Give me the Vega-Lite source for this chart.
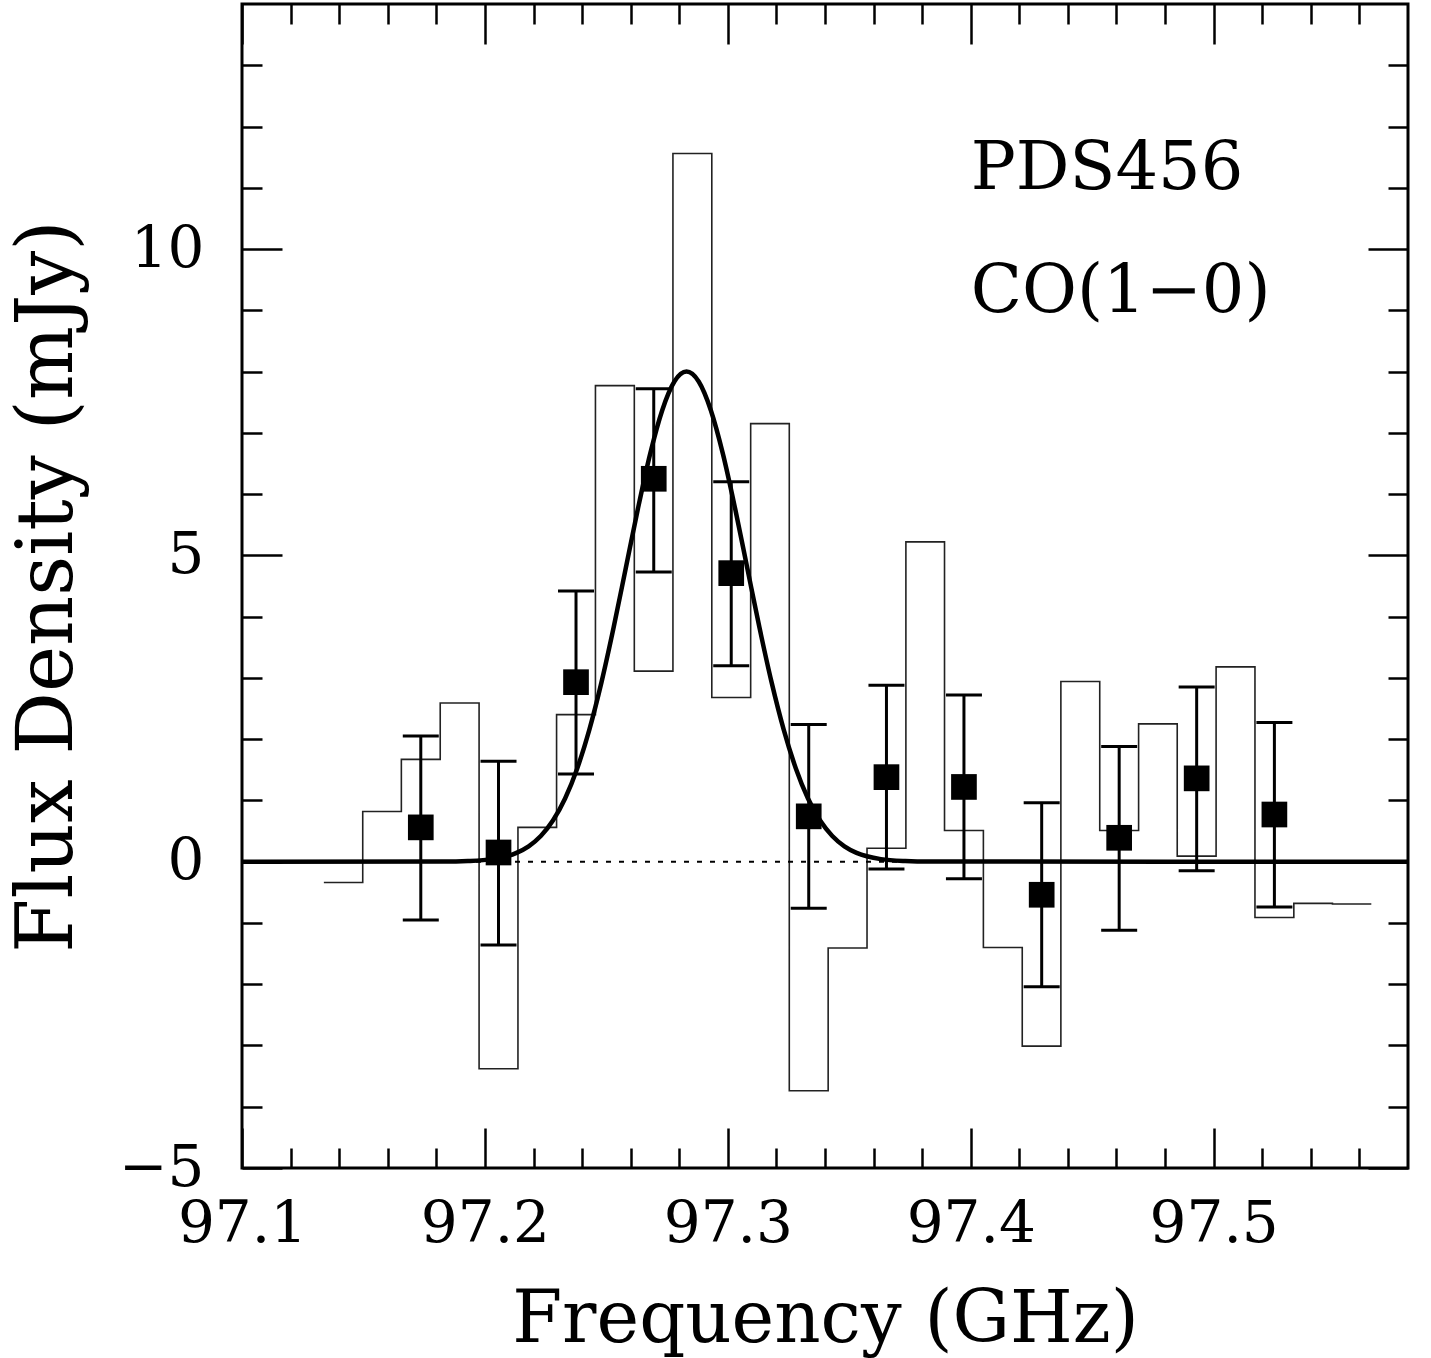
{
  "$schema": "https://vega.github.io/schema/vega-lite/v6.json",
  "width": 1166,
  "height": 1164,
  "autosize": {"type": "none"},
  "padding": {"left": 242, "top": 4, "right": 23, "bottom": 190},
  "background": "white",
  "config": {
    "view": {"stroke": "black", "strokeWidth": 3},
    "font": "DejaVu Serif",
    "axis": {
      "grid": false, "domain": false,
      "labelColor": "black", "titleColor": "black", "tickColor": "black",
      "labelFont": "DejaVu Serif", "titleFont": "DejaVu Serif", "titleFontWeight": "normal",
      "labelFlush": false, "labelOverlap": false, "labelBound": false
    }
  },
  "datasets": {
    "hist": [
      {"freq": 97.1337, "flux": -0.34},
      {"freq": 97.1497, "flux": 0.82},
      {"freq": 97.1656, "flux": 1.67},
      {"freq": 97.1816, "flux": 2.59},
      {"freq": 97.1976, "flux": -3.38},
      {"freq": 97.2136, "flux": 0.56},
      {"freq": 97.2295, "flux": 2.40},
      {"freq": 97.2455, "flux": 7.77},
      {"freq": 97.2615, "flux": 3.11},
      {"freq": 97.2774, "flux": 11.56},
      {"freq": 97.2934, "flux": 2.68},
      {"freq": 97.3094, "flux": 7.15},
      {"freq": 97.3253, "flux": -3.74},
      {"freq": 97.3413, "flux": -1.41},
      {"freq": 97.3573, "flux": 0.22},
      {"freq": 97.3733, "flux": 5.22},
      {"freq": 97.3892, "flux": 0.51},
      {"freq": 97.4052, "flux": -1.40},
      {"freq": 97.4212, "flux": -3.01},
      {"freq": 97.4371, "flux": 2.94},
      {"freq": 97.4531, "flux": 0.51},
      {"freq": 97.4691, "flux": 2.25},
      {"freq": 97.4850, "flux": 0.09},
      {"freq": 97.5010, "flux": 3.18},
      {"freq": 97.5170, "flux": -0.91},
      {"freq": 97.5330, "flux": -0.68},
      {"freq": 97.5489, "flux": -0.69},
      {"freq": 97.5649, "flux": -0.69}
    ],
    "zero": [
      {"freq": 97.1, "flux": 0},
      {"freq": 97.58, "flux": 0}
    ],
    "gauss": [
      {"freq": 97.100, "flux": 0},
      {"freq": 97.183, "flux": 0.002},
      {"freq": 97.193, "flux": 0.011},
      {"freq": 97.203, "flux": 0.042},
      {"freq": 97.213, "flux": 0.144},
      {"freq": 97.218, "flux": 0.251},
      {"freq": 97.223, "flux": 0.419},
      {"freq": 97.228, "flux": 0.671},
      {"freq": 97.233, "flux": 1.031},
      {"freq": 97.238, "flux": 1.522},
      {"freq": 97.243, "flux": 2.156},
      {"freq": 97.248, "flux": 2.931},
      {"freq": 97.253, "flux": 3.826},
      {"freq": 97.258, "flux": 4.794},
      {"freq": 97.263, "flux": 5.764},
      {"freq": 97.268, "flux": 6.653},
      {"freq": 97.273, "flux": 7.370},
      {"freq": 97.278, "flux": 7.838},
      {"freq": 97.283, "flux": 8.000},
      {"freq": 97.288, "flux": 7.838},
      {"freq": 97.293, "flux": 7.370},
      {"freq": 97.298, "flux": 6.653},
      {"freq": 97.303, "flux": 5.764},
      {"freq": 97.308, "flux": 4.794},
      {"freq": 97.313, "flux": 3.826},
      {"freq": 97.318, "flux": 2.931},
      {"freq": 97.323, "flux": 2.156},
      {"freq": 97.328, "flux": 1.522},
      {"freq": 97.333, "flux": 1.031},
      {"freq": 97.338, "flux": 0.671},
      {"freq": 97.343, "flux": 0.419},
      {"freq": 97.348, "flux": 0.251},
      {"freq": 97.353, "flux": 0.144},
      {"freq": 97.363, "flux": 0.042},
      {"freq": 97.373, "flux": 0.011},
      {"freq": 97.383, "flux": 0.002},
      {"freq": 97.580, "flux": 0}
    ],
    "pts": [
      {"freq": 97.1736, "flux": 0.56, "lo": -0.95, "hi": 2.05},
      {"freq": 97.2056, "flux": 0.15, "lo": -1.36, "hi": 1.64},
      {"freq": 97.2375, "flux": 2.93, "lo": 1.43, "hi": 4.42},
      {"freq": 97.2695, "flux": 6.25, "lo": 4.73, "hi": 7.72},
      {"freq": 97.3014, "flux": 4.71, "lo": 3.20, "hi": 6.20},
      {"freq": 97.3333, "flux": 0.74, "lo": -0.76, "hi": 2.24},
      {"freq": 97.3653, "flux": 1.38, "lo": -0.12, "hi": 2.88},
      {"freq": 97.3972, "flux": 1.22, "lo": -0.28, "hi": 2.72},
      {"freq": 97.4292, "flux": -0.54, "lo": -2.04, "hi": 0.96},
      {"freq": 97.4611, "flux": 0.39, "lo": -1.12, "hi": 1.88},
      {"freq": 97.4930, "flux": 1.36, "lo": -0.15, "hi": 2.85},
      {"freq": 97.5250, "flux": 0.77, "lo": -0.74, "hi": 2.27}
    ],
    "labels": [
      {"freq": 97.4, "flux": 10.98, "label": "PDS456"},
      {"freq": 97.4, "flux": 8.97, "label": "CO(1−0)"}
    ]
  },
  "resolve": {"axis": {"x": "independent", "y": "independent"}},
  "layer": [
    {
      "data": {"name": "hist"},
      "mark": {"type": "line", "interpolate": "step-after", "stroke": "#222222", "strokeWidth": 1.6},
      "encoding": {
        "x": {"field": "freq", "type": "quantitative", "scale": {"domain": [97.1, 97.58], "nice": false, "zero": false},
              "axis": {"orient": "bottom", "values": [97.1, 97.2, 97.3, 97.4, 97.5], "format": ".1f", "ticks": false,
                       "labelFontSize": 58, "labelPadding": 27, "title": "Frequency (GHz)", "titleFontSize": 72, "titlePadding": 31}},
        "y": {"field": "flux", "type": "quantitative", "scale": {"domain": [-5, 14], "nice": false, "zero": false},
              "axis": {"orient": "left", "values": [-5, 0, 5, 10], "ticks": false,
                       "labelFontSize": 58, "labelPadding": 38, "title": "Flux Density (mJy)", "titleFontSize": 78, "titlePadding": 31}}
      }
    },
    {
      "data": {"name": "zero"},
      "mark": {"type": "line", "stroke": "black", "strokeWidth": 2, "strokeDash": [5, 8]},
      "encoding": {
        "x": {"field": "freq", "type": "quantitative", "scale": {"domain": [97.1, 97.58], "nice": false, "zero": false},
              "axis": {"orient": "bottom", "values": [97.1, 97.2, 97.3, 97.4, 97.5], "labels": false, "tickSize": -40, "tickWidth": 2.5, "title": null}},
        "y": {"field": "flux", "type": "quantitative", "scale": {"domain": [-5, 14], "nice": false, "zero": false},
              "axis": {"orient": "left", "values": [-5, 0, 5, 10], "labels": false, "tickSize": -40, "tickWidth": 2.5, "title": null}}
      }
    },
    {
      "data": {"name": "gauss"},
      "mark": {"type": "line", "interpolate": "monotone", "stroke": "black", "strokeWidth": 4.5},
      "encoding": {
        "x": {"field": "freq", "type": "quantitative", "scale": {"domain": [97.1, 97.58], "nice": false, "zero": false},
              "axis": {"orient": "bottom", "values": [97.12, 97.14, 97.16, 97.18, 97.22, 97.24, 97.26, 97.28, 97.32, 97.34, 97.36, 97.38, 97.42, 97.44, 97.46, 97.48, 97.52, 97.54, 97.56],
                       "labels": false, "tickSize": -20, "tickWidth": 2.5, "title": null}},
        "y": {"field": "flux", "type": "quantitative", "scale": {"domain": [-5, 14], "nice": false, "zero": false},
              "axis": {"orient": "left", "values": [-4, -3, -2, -1, 1, 2, 3, 4, 6, 7, 8, 9, 11, 12, 13],
                       "labels": false, "tickSize": -20, "tickWidth": 2.5, "title": null}}
      }
    },
    {
      "data": {"name": "pts"},
      "mark": {"type": "rule", "stroke": "black", "strokeWidth": 3},
      "encoding": {
        "x": {"field": "freq", "type": "quantitative", "scale": {"domain": [97.1, 97.58], "nice": false, "zero": false},
              "axis": {"orient": "top", "values": [97.1, 97.2, 97.3, 97.4, 97.5], "labels": false, "tickSize": -40, "tickWidth": 2.5, "title": null}},
        "y": {"field": "lo", "type": "quantitative", "scale": {"domain": [-5, 14], "nice": false, "zero": false},
              "axis": {"orient": "right", "values": [-5, 0, 5, 10], "labels": false, "tickSize": -40, "tickWidth": 2.5, "title": null}},
        "y2": {"field": "hi"}
      }
    },
    {
      "data": {"name": "pts"},
      "mark": {"type": "tick", "orient": "horizontal", "color": "black", "opacity": 1, "size": 36, "thickness": 3},
      "encoding": {
        "x": {"field": "freq", "type": "quantitative", "scale": {"domain": [97.1, 97.58], "nice": false, "zero": false},
              "axis": {"orient": "top", "values": [97.12, 97.14, 97.16, 97.18, 97.22, 97.24, 97.26, 97.28, 97.32, 97.34, 97.36, 97.38, 97.42, 97.44, 97.46, 97.48, 97.52, 97.54, 97.56],
                       "labels": false, "tickSize": -20, "tickWidth": 2.5, "title": null}},
        "y": {"field": "hi", "type": "quantitative", "scale": {"domain": [-5, 14], "nice": false, "zero": false},
              "axis": {"orient": "right", "values": [-4, -3, -2, -1, 1, 2, 3, 4, 6, 7, 8, 9, 11, 12, 13],
                       "labels": false, "tickSize": -20, "tickWidth": 2.5, "title": null}}
      }
    },
    {
      "data": {"name": "pts"},
      "mark": {"type": "tick", "orient": "horizontal", "color": "black", "opacity": 1, "size": 36, "thickness": 3},
      "encoding": {
        "x": {"field": "freq", "type": "quantitative", "scale": {"domain": [97.1, 97.58], "nice": false, "zero": false}, "axis": null},
        "y": {"field": "lo", "type": "quantitative", "scale": {"domain": [-5, 14], "nice": false, "zero": false}, "axis": null}
      }
    },
    {
      "data": {"name": "pts"},
      "mark": {"type": "point", "shape": "square", "filled": true, "color": "black", "opacity": 1, "size": 660},
      "encoding": {
        "x": {"field": "freq", "type": "quantitative", "scale": {"domain": [97.1, 97.58], "nice": false, "zero": false}, "axis": null},
        "y": {"field": "flux", "type": "quantitative", "scale": {"domain": [-5, 14], "nice": false, "zero": false}, "axis": null}
      }
    },
    {
      "data": {"name": "labels"},
      "mark": {"type": "text", "align": "left", "baseline": "alphabetic", "font": "DejaVu Serif", "fontSize": 67, "color": "black"},
      "encoding": {
        "x": {"field": "freq", "type": "quantitative", "scale": {"domain": [97.1, 97.58], "nice": false, "zero": false}, "axis": null},
        "y": {"field": "flux", "type": "quantitative", "scale": {"domain": [-5, 14], "nice": false, "zero": false}, "axis": null},
        "text": {"field": "label"}
      }
    }
  ]
}
